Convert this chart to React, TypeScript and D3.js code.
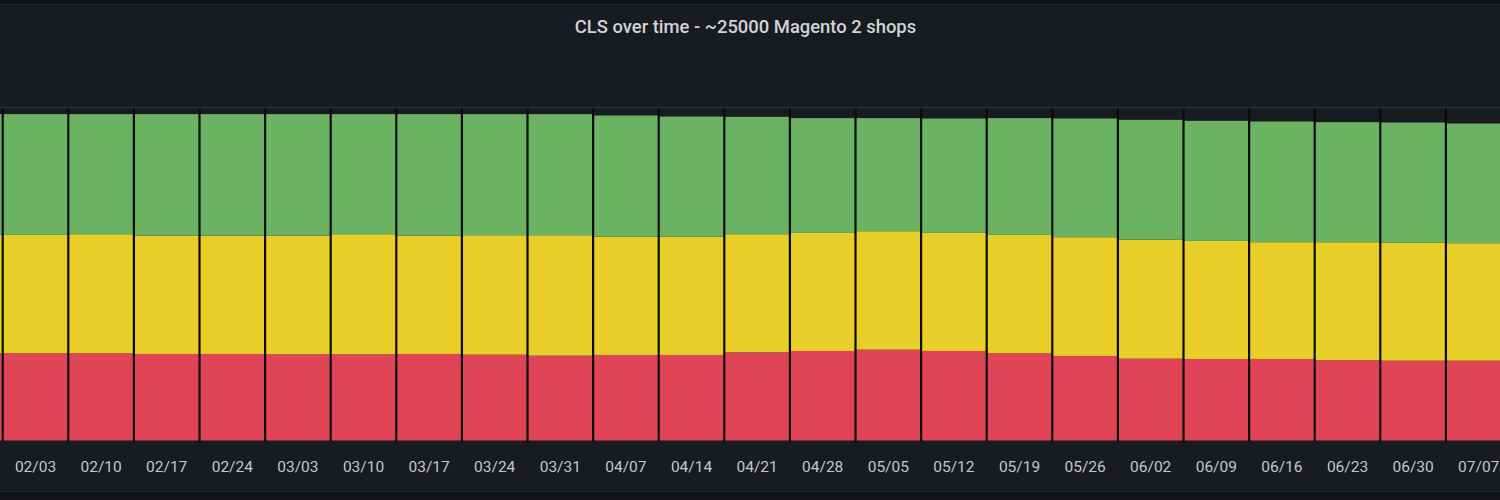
import * as d3 from 'd3';
import React, { useEffect, useRef } from 'react';

// weekly CLS buckets, number of shops
const weeks = [
  '01/27', '02/03', '02/10', '02/17', '02/24', '03/03', '03/10', '03/17', '03/24', '03/31',
  '04/07', '04/14', '04/21', '04/28', '05/05', '05/12', '05/19', '05/26', '06/02', '06/09',
  '06/16', '06/23', '06/30', '07/07',
];
// labels that fall inside the visible part of the panel
const tickLabels = weeks.slice(1);
const poor = [
  6540, 6540, 6540, 6488, 6488, 6465, 6465, 6488, 6435, 6360,
  6413, 6413, 6615, 6713, 6810, 6713, 6540, 6338, 6135, 6113,
  6113, 6015, 5985, 5985,
];
const needsImprovement = [
  8873, 8873, 8925, 8873, 8873, 8895, 9000, 8873, 8955, 9030,
  8873, 8873, 8850, 8850, 8880, 8850, 8873, 8903, 8925, 8850,
  8753, 8850, 8850, 8805,
];
const good = [
  9053, 9053, 9000, 9105, 9105, 9105, 9000, 9105, 9075, 9075,
  9075, 9000, 8798, 8603, 8475, 8573, 8753, 8895, 8978, 9000,
  9045, 9000, 9000, 8970,
];
const seriesKeys = ['poor', 'needsImprovement', 'good'];
const seriesColors = ['#e04557', '#e8ce29', '#6bb263'];

type Row = { week: string; poor: number; needsImprovement: number; good: number };

const App: React.FC = () => {
  const ref = useRef<SVGSVGElement | null>(null);
  const width = 1500;
  const height = 500;

  useEffect(() => {
    const svg = d3.select(ref.current);
    svg.selectAll('*').remove();

    const rows: Row[] = weeks.map((w, i) => ({
      week: w,
      poor: poor[i],
      needsImprovement: needsImprovement[i],
      good: good[i],
    }));

    // the panel is wider than the screenshot, first and last bars are cut
    const step = 65.6;
    const x0 = 2.7 - step;
    const x = d3.scaleBand().domain(weeks).range([x0, x0 + step * weeks.length]).padding(0);
    const y = d3.scaleLinear().domain([0, 25000]).range([440.5, 107]);

    svg.append('rect').attr('width', width).attr('height', height).attr('fill', '#111217');
    svg.append('rect')
      .attr('x', -2).attr('y', 4.5)
      .attr('width', width + 4).attr('height', 487)
      .attr('fill', '#181b1f').attr('stroke', '#24262b');

    svg.append('text')
      .attr('x', 745.5).attr('y', 32.5)
      .attr('text-anchor', 'middle')
      .attr('font-family', 'Roboto')
      .attr('font-weight', 500)
      .attr('font-size', 18.4)
      .attr('fill', '#d2d3d8')
      .text('CLS over time - ~25000 Magento 2 shops');

    // grid line
    svg.append('line')
      .attr('x1', 0).attr('x2', width)
      .attr('y1', y(25000) + 0.5).attr('y2', y(25000) + 0.5)
      .attr('stroke', '#2b2e34').attr('stroke-width', 1.5);

    const stacked = d3.stack<Row>().keys(seriesKeys)(rows);

    svg.append('g')
      .selectAll('g')
      .data(stacked)
      .join('g')
      .attr('fill', (_, i) => seriesColors[i])
      .selectAll('rect')
      .data(d => d)
      .join('rect')
      .attr('x', d => x(d.data.week) ?? 0)
      .attr('width', x.bandwidth())
      .attr('y', d => y(d[1]))
      .attr('height', d => y(d[0]) - y(d[1]));

    // dark separators between the bars
    svg.append('g')
      .selectAll('line')
      .data(weeks)
      .join('line')
      .attr('x1', d => x(d) ?? 0)
      .attr('x2', d => x(d) ?? 0)
      .attr('y1', y(25000) + 1)
      .attr('y2', y(0) + 1.5)
      .attr('stroke', '#0a0b0d')
      .attr('stroke-width', 2.2);

    const axis = svg.append('g')
      .attr('transform', `translate(0,${y(0)})`)
      .call(d3.axisBottom(x).tickValues(tickLabels).tickSize(0).tickPadding(20));
    axis.select('.domain').remove();
    axis.selectAll('text')
      .attr('font-family', 'Roboto')
      .attr('font-size', 15.5)
      .attr('fill', '#c5c6cd');
  }, []);

  return (
    <svg
      ref={ref}
      width={width}
      height={height}
      style={{ position: 'absolute', left: 0, top: 0, display: 'block' }}
    />
  );
};

export default App;
